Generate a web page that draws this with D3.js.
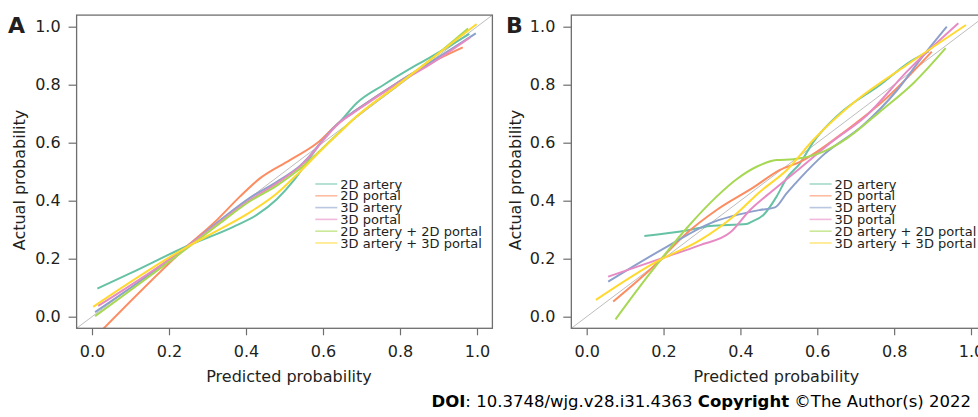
<!DOCTYPE html>
<html>
<head>
<meta charset="utf-8">
<script src="https://cdn.jsdelivr.net/npm/d3@7"></script>
<style>
  body { margin: 0; background: #fff; }
  svg { display: block; font-family: "DejaVu Sans", sans-serif; }
</style>
</head>
<body>
<svg id="chart" width="978" height="417"></svg>
<script>
const seriesNames = ["2D artery", "2D portal", "3D artery", "3D portal", "2D artery + 2D portal", "3D artery + 3D portal"];
const tickValues = [0, 0.2, 0.4, 0.6, 0.8, 1.0];

// panel A: [predicted, actual]
const a2DArtery = [[0.014,0.097],[0.1,0.15],[0.246,0.243],[0.367,0.31],[0.428,0.351],[0.48,0.405],[0.523,0.468],[0.566,0.548],[0.61,0.628],[0.644,0.672],[0.687,0.736],[0.757,0.799],[0.843,0.868],[0.912,0.92],[0.98,0.975]];
const a2DPortal = [[0.01,-0.068],[0.246,0.241],[0.324,0.333],[0.384,0.414],[0.436,0.477],[0.514,0.54],[0.584,0.598],[0.644,0.672],[0.687,0.713],[0.791,0.805],[0.878,0.874],[0.963,0.929]];
const a3DArtery = [[0.008,0.016],[0.246,0.24],[0.33,0.33],[0.41,0.41],[0.48,0.465],[0.54,0.52],[0.644,0.672],[0.687,0.713],[0.791,0.805],[0.878,0.876],[0.997,0.977]];
const a3DPortal = [[0.016,0.037],[0.246,0.24],[0.33,0.325],[0.41,0.402],[0.48,0.46],[0.54,0.517],[0.644,0.67],[0.687,0.71],[0.791,0.802],[0.878,0.87],[0.982,0.963]];
const a2DBoth = [[0.008,0.002],[0.246,0.235],[0.33,0.32],[0.41,0.398],[0.48,0.452],[0.54,0.51],[0.644,0.638],[0.687,0.69],[0.791,0.796],[0.878,0.885],[0.977,0.994]];
const a3DBoth = [[0.003,0.034],[0.246,0.24],[0.33,0.3],[0.41,0.36],[0.48,0.425],[0.54,0.5],[0.6,0.58],[0.644,0.636],[0.687,0.69],[0.791,0.796],[0.878,0.885],[0.999,1.009]];

// panel B
const b2DArtery = [[0.15,0.278],[0.26,0.297],[0.321,0.313],[0.416,0.32],[0.43,0.328],[0.46,0.351],[0.494,0.414],[0.52,0.477],[0.555,0.529],[0.59,0.603],[0.659,0.701],[0.763,0.799],[0.841,0.879],[0.89,0.915]];
const b2DPortal = [[0.069,0.052],[0.173,0.172],[0.26,0.288],[0.338,0.368],[0.434,0.446],[0.503,0.506],[0.555,0.534],[0.677,0.644],[0.781,0.755],[0.898,0.914]];
const b3DArtery = [[0.056,0.121],[0.208,0.241],[0.321,0.322],[0.451,0.368],[0.49,0.377],[0.52,0.425],[0.555,0.477],[0.616,0.558],[0.72,0.661],[0.807,0.78],[0.867,0.885],[0.937,1.0]];
const b3DPortal = [[0.056,0.138],[0.208,0.207],[0.295,0.247],[0.373,0.29],[0.425,0.368],[0.486,0.437],[0.555,0.512],[0.633,0.598],[0.729,0.695],[0.833,0.845],[0.967,1.012]];
const b2DBoth = [[0.075,-0.009],[0.165,0.15],[0.26,0.305],[0.338,0.414],[0.39,0.474],[0.442,0.517],[0.494,0.54],[0.538,0.543],[0.616,0.569],[0.677,0.615],[0.763,0.707],[0.85,0.805],[0.934,0.926]];
const b3DBoth = [[0.024,0.058],[0.182,0.19],[0.295,0.264],[0.381,0.345],[0.451,0.431],[0.52,0.505],[0.59,0.61],[0.703,0.747],[0.833,0.868],[0.987,1.006]];

const colors = ["#66c2a5", "#fc8d62", "#8da0cb", "#e78ac3", "#a6d854", "#ffd92f"];

const panels = [
    {letter: "A", series: [a2DArtery, a2DPortal, a3DArtery, a3DPortal, a2DBoth, a3DBoth],
     x0: 92, x1: 477, letterX: 8, yTitleX: 24.5, xTitleShift: 4.5},
    {letter: "B", series: [b2DArtery, b2DPortal, b3DArtery, b3DPortal, b2DBoth, b3DBoth],
     x0: 586.7, x1: 971, letterX: 506, yTitleX: 521, xTitleShift: -2.5}
];

const svg = d3.select("#chart");
const y = d3.scaleLinear().domain([0, 1]).range([316.7, 26.7]);
const pad = 0.04;

panels.forEach((p, pi) => {
    const x = d3.scaleLinear().domain([0, 1]).range([p.x0, p.x1]);
    const g = svg.append("g");
    const left = x(-pad), right = x(1 + pad), top = y(1 + pad), bottom = y(-pad);

    g.append("clipPath").attr("id", "clip" + pi)
        .append("rect").attr("x", left).attr("y", top)
        .attr("width", right - left).attr("height", bottom - top);

    const plot = g.append("g").attr("clip-path", `url(#clip${pi})`);

    // reference diagonal
    plot.append("line")
        .attr("x1", x(-pad)).attr("y1", y(-pad))
        .attr("x2", x(1 + pad)).attr("y2", y(1 + pad))
        .attr("stroke", "#bdbdbd").attr("stroke-width", 1);

    const line = d3.line()
        .x(d => x(d[0]))
        .y(d => y(d[1]))
        .curve(d3.curveMonotoneX);

    plot.selectAll("path.curve")
        .data(p.series)
        .join("path")
        .attr("class", "curve")
        .attr("d", line)
        .attr("fill", "none")
        .attr("stroke", (d, i) => colors[i])
        .attr("stroke-width", 2);

    // frame
    g.append("rect")
        .attr("x", left).attr("y", top)
        .attr("width", right - left).attr("height", bottom - top)
        .attr("fill", "none").attr("stroke", "#6e6e6e").attr("stroke-width", 1.3);

    // axes
    const xAxis = d3.axisBottom(x).tickValues(tickValues).tickFormat(d3.format(".1f")).tickSizeOuter(0).tickSize(7).tickPadding(10);
    const yAxis = d3.axisLeft(y).tickValues(tickValues).tickFormat(d3.format(".1f")).tickSizeOuter(0).tickSize(8).tickPadding(8);

    const xa = g.append("g").attr("transform", `translate(0,${bottom})`).call(xAxis);
    const ya = g.append("g").attr("transform", `translate(${left},0)`).call(yAxis);
    [xa, ya].forEach(a => {
        a.select(".domain").remove();
        a.selectAll(".tick line").attr("stroke", "#6e6e6e").attr("stroke-width", 1.2);
        a.selectAll("text").attr("font-size", 16).attr("fill", "#231f20")
            .attr("font-family", "DejaVu Sans, sans-serif");
    });

    g.append("text")
        .attr("x", (left + right) / 2 + p.xTitleShift).attr("y", 381.5)
        .attr("text-anchor", "middle").attr("font-size", 16).attr("fill", "#231f20")
        .text("Predicted probability");

    g.append("text")
        .attr("transform", `translate(${p.yTitleX},180) rotate(-90)`)
        .attr("text-anchor", "middle").attr("font-size", 16).attr("fill", "#231f20")
        .text("Actual probability");

    g.append("text")
        .attr("x", p.letterX).attr("y", 33)
        .attr("font-size", 22).attr("font-weight", "bold").attr("fill", "#231f20")
        .text(p.letter);

    // legend (rows sit tight, as in the original)
    const lx = x(0.58), ly = y(0.4576), step = 11.8;
    const leg = g.append("g");
    seriesNames.forEach((name, i) => {
        leg.append("line")
            .attr("x1", lx).attr("x2", lx + 22)
            .attr("y1", ly + i * step).attr("y2", ly + i * step)
            .attr("stroke", colors[i]).attr("stroke-width", 1.6).attr("stroke-opacity", 0.6);
        leg.append("text")
            .attr("x", lx + 25).attr("y", ly + i * step)
            .attr("dy", "0.35em").attr("font-size", 13).attr("fill", "#231f20")
            .text(name);
    });
});

// footer
const foot = svg.append("text")
    .attr("x", 971).attr("y", 407).attr("text-anchor", "end")
    .attr("font-size", 16.5).attr("fill", "#000");
foot.append("tspan").attr("font-weight", "bold").text("DOI");
foot.append("tspan").text(": 10.3748/wjg.v28.i31.4363 ");
foot.append("tspan").attr("font-weight", "bold").text("Copyright");
foot.append("tspan").text(" \u00A9The Author(s) 2022");
</script>
</body>
</html>
